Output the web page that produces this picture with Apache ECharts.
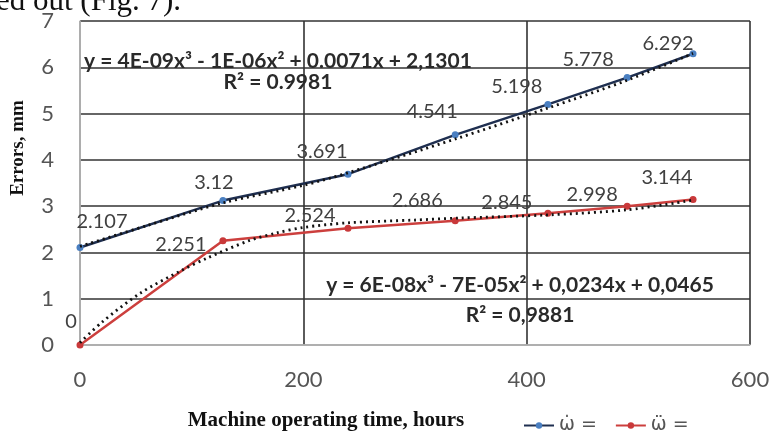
<!DOCTYPE html>
<html>
<head>
<meta charset="utf-8">
<script src="https://cdn.jsdelivr.net/npm/echarts@6/dist/echarts.min.js"></script>
<style>
  html, body { margin: 0; padding: 0; background: #fff; }
  #errChart { width: 772px; height: 434px; }
</style>
</head>
<body>
<div id="errChart"></div>
<script>
// measured points, machine operating time (hours) vs error (mm)
var hours = [0, 128, 240, 336, 419, 490, 549];
var omegaDot = [2.107, 3.12, 3.691, 4.541, 5.198, 5.778, 6.292];
var omegaDdot = [0, 2.251, 2.524, 2.686, 2.845, 2.998, 3.144];

// dotted polynomial trend curves
var trendDotHours = [0, 60, 128, 200, 240, 336, 419, 490, 549];
var trendDotVals = [2.13, 2.58, 3.07, 3.45, 3.72, 4.45, 5.12, 5.72, 6.3];
var trendDdotHours = [0, 20, 54, 90, 114, 152, 176, 200, 240, 300, 337, 419, 490, 549];
var trendDdotVals = [0.05, 0.5, 1.12, 1.6, 1.88, 2.26, 2.42, 2.54, 2.64, 2.7, 2.74, 2.81, 2.92, 3.13];

var seriesNames = ['\u03c9\u0307 =', '\u03c9\u0308 ='];
var eqDot = ['y = 4E-09x\u00b3 - 1E-06x\u00b2 + 0.0071x + 2,1301', 'R\u00b2 = 0.9981'];
var eqDdot = ['y = 6E-08x\u00b3 - 7E-05x\u00b2 + 0,0234x + 0,0465', 'R\u00b2 = 0,9881'];

// where each value label sits relative to its point (px)
var dotLabelShift = [[22, -26], [-9, -18], [-26, -23], [-23, -23], [-31, -18], [-39, -18], [-25, -10]];
var ddotLabelShift = [[-9, -23], [-42, 4], [-38, -13], [-38, -20], [-41, -11], [-35, -12], [-26, -22]];

initErrChart();

function pointsWithLabels(xs, ys, shifts) {
  var out = [];
  for (var i = 0; i < xs.length; i++) {
    out.push({ value: [xs[i], ys[i]], label: { offset: shifts[i] } });
  }
  return out;
}

function pairs(xs, ys) {
  var out = [];
  for (var i = 0; i < xs.length; i++) out.push([xs[i], ys[i]]);
  return out;
}

function initErrChart() {
  var dom = document.getElementById('errChart');
  var myChart = echarts.init(dom);

  var labelStyle = {
    show: true,
    position: 'inside',
    fontFamily: 'Lato',
    fontSize: 20,
    color: '#404040',
    formatter: function (p) { return p.value[1]; }
  };
  var eqFont = 'bold 21px Lato';

  var option = {
    backgroundColor: '#fff',
    animation: false,
    grid: { left: 80, right: 22, top: 21, bottom: 89, containLabel: false, outerBoundsMode: 'none' },
    xAxis: {
      type: 'value',
      min: 0, max: 600, interval: 200,
      axisLine: { show: true, lineStyle: { color: '#c8c8c8', width: 1.5 } },
      axisTick: { show: false },
      axisLabel: { fontFamily: 'Lato', fontSize: 22, color: '#555', margin: 24 },
      splitLine: { show: true, lineStyle: { color: '#333', width: 1.6 } }
    },
    yAxis: {
      type: 'value',
      min: 0, max: 7, interval: 1,
      axisLine: { show: true, lineStyle: { color: '#c8c8c8', width: 1.5 } },
      axisTick: { show: false },
      axisLabel: { fontFamily: 'Lato', fontSize: 22, color: '#555', margin: 26 },
      splitLine: { show: true, lineStyle: { color: '#333', width: 1.6 } }
    },
    legend: {
      left: 518, top: 411,
      itemWidth: 30, itemHeight: 8, itemGap: 18,
      data: seriesNames,
      textStyle: { fontFamily: 'DejaVu Sans', fontSize: 19, color: '#555' }
    },
    series: [
      {
        name: seriesNames[0],
        type: 'line',
        symbol: 'circle', symbolSize: 7,
        itemStyle: { color: '#4a7fc1' },
        lineStyle: { color: '#1f2f50', width: 2.5 },
        label: labelStyle,
        data: pointsWithLabels(hours, omegaDot, dotLabelShift),
        z: 3
      },
      {
        name: seriesNames[1],
        type: 'line',
        symbol: 'circle', symbolSize: 7,
        itemStyle: { color: '#c9393a' },
        lineStyle: { color: '#cc3f3d', width: 2.5 },
        label: labelStyle,
        data: pointsWithLabels(hours, omegaDdot, ddotLabelShift),
        z: 3
      },
      {
        name: 'trendDot',
        type: 'line', smooth: 0.3, symbol: 'none',
        lineStyle: { color: '#111', width: 2.8, type: [2, 4] },
        data: pairs(trendDotHours, trendDotVals),
        z: 4
      },
      {
        name: 'trendDdot',
        type: 'line', smooth: 0.3, symbol: 'none',
        lineStyle: { color: '#111', width: 2.8, type: [2, 4] },
        data: pairs(trendDdotHours, trendDdotVals),
        z: 4
      }
    ],
    graphic: [
      { type: 'text', left: -4, top: -14, style: { text: 'ed out (Fig. 7).', font: '31px "Liberation Serif"', fill: '#111' } },
      { type: 'text', x: 278, y: 61, style: { text: eqDot[0], font: eqFont, fill: '#2a2a2a', textAlign: 'center', textVerticalAlign: 'middle' }, z: 10 },
      { type: 'text', x: 278, y: 82, style: { text: eqDot[1], font: eqFont, fill: '#2a2a2a', textAlign: 'center', textVerticalAlign: 'middle' }, z: 10 },
      { type: 'text', x: 520, y: 285, style: { text: eqDdot[0], font: eqFont, fill: '#2a2a2a', textAlign: 'center', textVerticalAlign: 'middle' }, z: 10 },
      { type: 'text', x: 520, y: 315, style: { text: eqDdot[1], font: eqFont, fill: '#2a2a2a', textAlign: 'center', textVerticalAlign: 'middle' }, z: 10 },
      { type: 'text', x: 326, y: 421, style: { text: 'Machine operating time, hours', font: 'bold 21px "Liberation Serif"', fill: '#111', textAlign: 'center', textVerticalAlign: 'middle' } },
      { type: 'text', x: 18, y: 148, rotation: Math.PI / 2, style: { text: 'Errors, mm', font: 'bold 19px "Liberation Serif"', fill: '#111', textAlign: 'center', textVerticalAlign: 'middle' } }
    ]
  };

  myChart.setOption(option, true);
}
</script>
</body>
</html>
